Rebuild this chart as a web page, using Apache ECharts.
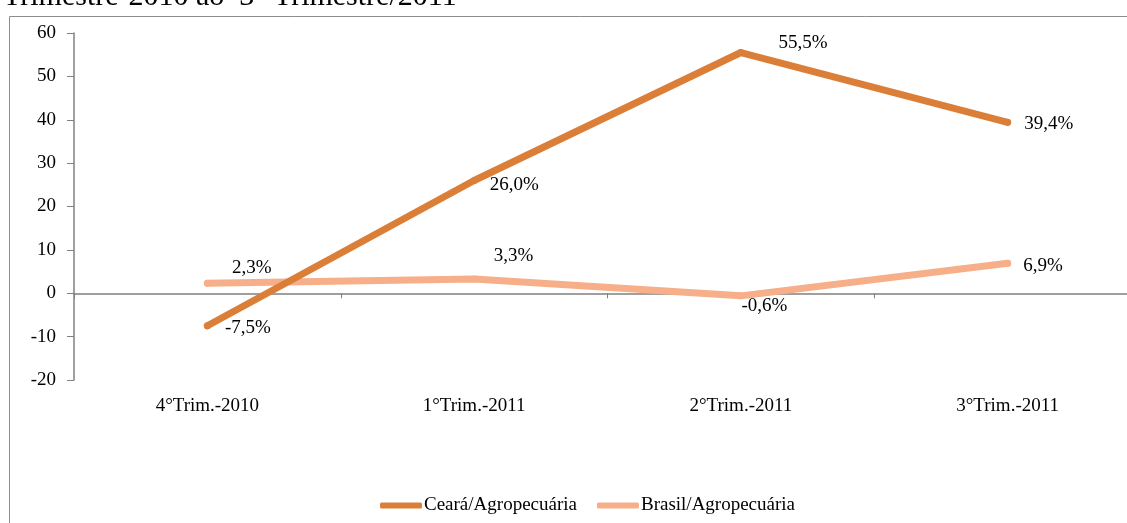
<!DOCTYPE html>
<html><head><meta charset="utf-8">
<script src="https://cdn.jsdelivr.net/npm/echarts@6/dist/echarts.min.js"></script>
<style>html,body{margin:0;padding:0;background:#fff;overflow:hidden}#c{width:1150px;height:523px}</style>
</head><body><div id="c"></div>
<script>
const categories = ['4°Trim.-2010', '1°Trim.-2011', '2°Trim.-2011', '3°Trim.-2011'];
const cearaValues = [-7.5, 26.0, 55.5, 39.4];
const brasilValues = [2.3, 3.3, -0.6, 6.9];
const yTicks = { min: -20, max: 60, interval: 10 };
const seriesNames = ['Ceará/Agropecuária', 'Brasil/Agropecuária'];
const titleText = 'Trimestre-2010 ao  3° Trimestre/2011';

const cearaLabelOffsets = [[14, 2], [12, 5], [34, -10], [13, 2]];
const brasilLabelOffsets = [[21, -15], [16, -23], [-3, 10], [12, 3]];

const FONT = '"Liberation Serif", "Times New Roman", serif';
const fmt = v => v.toFixed(1).replace('.', ',') + '%';

function mkData(vals, offs) {
  return vals.map((v, i) => ({
    value: v,
    label: { offset: offs[i] }
  }));
}

const chart = echarts.init(document.getElementById('c'), null, { renderer: 'canvas' });
chart.setOption({
  animation: false,
  graphic: [
    { type: 'rect', shape: { x: 9.5, y: 16.5, width: 1200, height: 600 }, style: { fill: 'none', stroke: '#8c8c8c', lineWidth: 1 }, z: -1 },
    { type: 'text', left: 3, top: -18, style: { text: titleText, font: '30px ' + FONT, fill: '#000' } }
  ],
  grid: { left: 74, width: 1067, top: 33, height: 347, containLabel: false },
  legend: {
    top: 491, left: 375, icon: 'roundRect', itemWidth: 42, itemHeight: 6, itemGap: 20,
    textStyle: { fontFamily: FONT, fontSize: 19, color: '#000', padding: [0, 0, 0, -3] },
    data: seriesNames
  },
  xAxis: [
    { type: 'category', data: categories, position: 'bottom',
      axisLine: { show: false, onZero: false }, axisTick: { show: false },
      axisLabel: { fontFamily: FONT, fontSize: 19, color: '#000', margin: 17 } },
    { type: 'category', data: categories, position: 'bottom',
      axisLine: { show: true, onZero: true, lineStyle: { color: '#808080', width: 1.5 } },
      axisTick: { show: true, length: 5, lineStyle: { color: '#808080' } },
      axisLabel: { show: false } }
  ],
  yAxis: {
    type: 'value', min: yTicks.min, max: yTicks.max, interval: yTicks.interval,
    axisLine: { show: true, lineStyle: { color: '#808080', width: 1.5 } },
    axisTick: { show: true, length: 7, lineStyle: { color: '#808080' } },
    splitLine: { show: false },
    axisLabel: { fontFamily: FONT, fontSize: 19, color: '#000', margin: 18 }
  },
  series: [
    { name: seriesNames[0], type: 'line', xAxisIndex: 0, data: mkData(cearaValues, cearaLabelOffsets),
      symbol: 'circle', symbolSize: 7, showSymbol: true, color: '#DB7F38',
      itemStyle: { color: '#DB7F38' },
      lineStyle: { width: 7, cap: 'round', join: 'round', color: '#DB7F38' },
      label: { show: true, position: 'right', distance: 0, fontFamily: FONT, fontSize: 19, color: '#000', formatter: p => fmt(p.value) },
      z: 3 },
    { name: seriesNames[1], type: 'line', xAxisIndex: 0, data: mkData(brasilValues, brasilLabelOffsets),
      symbol: 'circle', symbolSize: 7, showSymbol: true, color: '#F6AF88',
      itemStyle: { color: '#F6AF88' },
      lineStyle: { width: 7, cap: 'round', join: 'round', color: '#F6AF88' },
      label: { show: true, position: 'right', distance: 0, fontFamily: FONT, fontSize: 19, color: '#000', formatter: p => fmt(p.value) },
      z: 2 }
  ]
});
</script></body></html>
